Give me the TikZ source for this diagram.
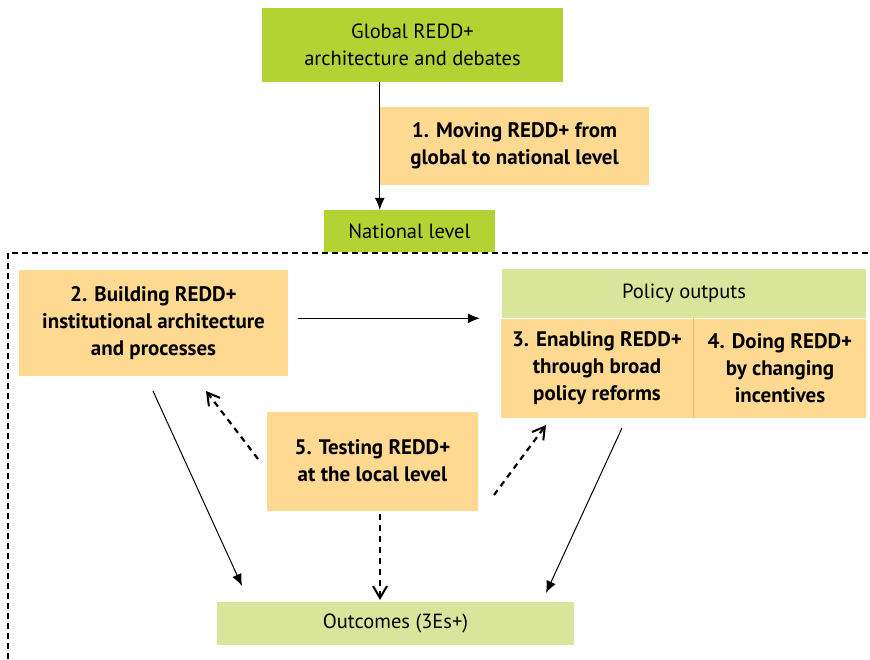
\documentclass[tikz,border=0pt]{standalone}
\usepackage{fontspec}
\setmainfont{PT Sans}
\usetikzlibrary{arrows.meta}
\definecolor{brightgreen}{HTML}{B3D335}
\definecolor{palegreen}{HTML}{D8E59B}
\definecolor{paleorange}{HTML}{FDD992}
\definecolor{divider}{HTML}{F2BE62}
\tikzset{
  greenbox/.style={fill=brightgreen, inner sep=0pt, align=center, font=\fontsize{20.5}{27}\selectfont},
  outbox/.style={fill=palegreen, inner sep=0pt, align=center, font=\fontsize{20.5}{27}\selectfont},
  stagebox/.style={fill=paleorange, inner sep=0pt, align=center, font=\bfseries\fontsize{21}{27}\selectfont},
  solidarrow/.style={draw=black, line width=1pt, -{Latex[length=12pt,width=10pt]}},
  dasharrow/.style={draw=black, line width=2.2pt, dash pattern=on 6pt off 5pt, -{Straight Barb[length=12pt,width=14pt,line width=2pt]}},
  frame/.style={draw=black, line width=1.2pt, dash pattern=on 6pt off 4pt}
}
\begin{document}
\begin{tikzpicture}[x=1pt,y=-1pt]
\useasboundingbox (0,0) rectangle (870,659);
% boxes
\node[greenbox, minimum width=301pt, minimum height=74pt] (global) at (412.5,45) {Global REDD+\\architecture and debates};
\node[stagebox, minimum width=269pt, minimum height=78pt] (s1) at (514.5,146) {1. Moving REDD+ from\\global to national level};
\node[greenbox, minimum width=171pt, minimum height=42pt] (national) at (409.5,231) {National level};
\node[stagebox, minimum width=269pt, minimum height=106pt] (s2) at (153.5,323) {2. Building REDD+\\institutional architecture\\and processes};
\node[outbox, minimum width=364pt, minimum height=49pt] (policy) at (684,293.5) {Policy outputs};
\node[stagebox, minimum width=192pt, minimum height=99pt] (s3) at (597,368) {3. Enabling REDD+\\through broad\\policy reforms};
\node[stagebox, minimum width=172pt, minimum height=99pt] (s4) at (780,368) {4. Doing REDD+\\by changing\\incentives};
\draw[divider, line width=0.8pt] (s3.north east) -- (s3.south east);
\node[stagebox, minimum width=211pt, minimum height=99pt] (s5) at (372.5,461) {5. Testing REDD+\\at the local level};
\node[outbox, minimum width=357pt, minimum height=43pt] (outcomes) at (395.5,623.5) {Outcomes (3Es+)};
% frame
\draw[frame] (8,659) -- (8,253) -- (870,253);
% coordinates for free ends
\coordinate (a2s) at (153,391);
\coordinate (a2e) at (242,586);
\coordinate (a3s) at (622,428);
\coordinate (a3e) at (546,593);
\coordinate (d2s) at (258,459);
\coordinate (d2e) at (206,391);
\coordinate (d3s) at (494,495);
\coordinate (d3e) at (546,425);
\coordinate (dos) at (380,514);
\coordinate (doe) at (380,600);
% connectors
\draw[solidarrow] (s1.west |- global.south) -- (s1.west |- national.north);
\draw[solidarrow, shorten <=10pt, shorten >=22pt] (s2.east |- s3.north) -- (policy.west |- s3.north);
\draw[solidarrow] (a2s) -- (a2e);
\draw[solidarrow] (a3s) -- (a3e);
\draw[dasharrow] (d2s) -- (d2e);
\draw[dasharrow] (d3s) -- (d3e);
\draw[dasharrow] (dos) -- (doe);
\end{tikzpicture}
\end{document}
